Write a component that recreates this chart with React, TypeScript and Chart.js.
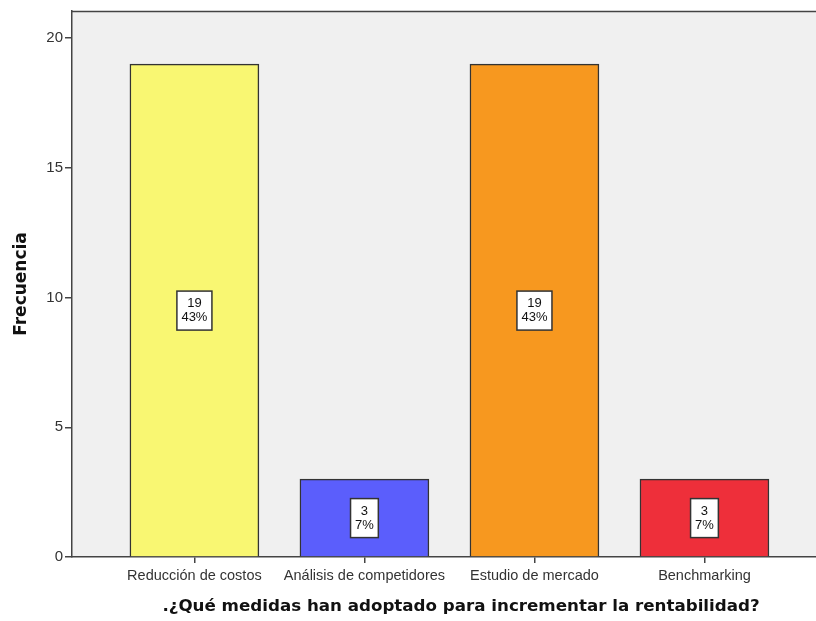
import React, { useEffect, useRef } from "react";
import { Chart, registerables } from "chart.js";

Chart.register(...registerables);

// Survey results: measures adopted to increase profitability
const categories = [
  "Reducción de costos",
  "Análisis de competidores",
  "Estudio de mercado",
  "Benchmarking",
];
const frequencies = [19, 3, 19, 3];
const barColors = ["#f9f772", "#5b5efc", "#f7981f", "#ee2f3a"];
const yTickValues = [0, 5, 10, 15, 20];
const yAxisTitle = "Frecuencia";
const xAxisTitle = ".¿Qué medidas han adoptado para incrementar la rentabilidad?";

const total = frequencies.reduce((a, b) => a + b, 0);
const AXIS_COLOR = "#444444";
const TEXT_COLOR = "#333333";

// Plot background, top frame line, value boxes and axis titles
const decorations = {
  id: "decorations",
  beforeDraw(chart: any) {
    const { ctx, chartArea } = chart;
    ctx.save();
    ctx.fillStyle = "#f0f0f0";
    ctx.fillRect(chartArea.left, chartArea.top, chartArea.right - chartArea.left, chartArea.bottom - chartArea.top);
    ctx.restore();
  },
  afterDatasetsDraw(chart: any) {
    const { ctx, chartArea } = chart;
    const xScale = chart.scales.x;
    const yScale = chart.scales.y;
    ctx.save();
    // top frame line
    ctx.strokeStyle = AXIS_COLOR;
    ctx.lineWidth = 1.5;
    ctx.beginPath();
    ctx.moveTo(chartArea.left, chartArea.top + 0.5);
    ctx.lineTo(chartArea.right, chartArea.top + 0.5);
    ctx.stroke();

    // value / percent boxes at mid-height of each bar
    ctx.font = "13px 'Liberation Sans', Arial, sans-serif";
    ctx.textAlign = "center";
    ctx.textBaseline = "middle";
    frequencies.forEach((v, i) => {
      const pct = Math.round((v / total) * 100) + "%";
      const cx = xScale.getPixelForValue(i);
      const cy = yScale.getPixelForValue(v / 2);
      const w = Math.max(ctx.measureText(String(v)).width, ctx.measureText(pct).width) + 9;
      const h = 39;
      ctx.fillStyle = "#ffffff";
      ctx.fillRect(cx - w / 2, cy - h / 2, w, h);
      ctx.strokeStyle = "#333333";
      ctx.lineWidth = 1.5;
      ctx.strokeRect(cx - w / 2, cy - h / 2, w, h);
      ctx.fillStyle = "#111111";
      ctx.fillText(String(v), cx, cy - 7);
      ctx.fillText(pct, cx, cy + 7);
    });
    ctx.restore();
  },
  afterDraw(chart: any) {
    const { ctx, chartArea } = chart;
    ctx.save();
    ctx.fillStyle = "#111111";
    ctx.textAlign = "center";
    ctx.textBaseline = "middle";
    // y axis title
    ctx.font = "bold 17px 'DejaVu Sans', Verdana, sans-serif";
    ctx.translate(22, (chartArea.top + chartArea.bottom) / 2);
    ctx.rotate(-Math.PI / 2);
    ctx.fillText(yAxisTitle, 0, 0);
    ctx.setTransform(1, 0, 0, 1, 0, 0);
    // x axis title
    ctx.font = "bold 16.7px 'DejaVu Sans', Verdana, sans-serif";
    ctx.fillText(xAxisTitle, 461, chartArea.bottom + 50);
    ctx.restore();
  },
};

export default function App() {
  const canvasRef = useRef<HTMLCanvasElement | null>(null);

  useEffect(() => {
    if (!canvasRef.current) return;
    const chart = new Chart(canvasRef.current, {
      type: "bar",
      data: {
        datasets: [
          {
            data: frequencies.map((v, i) => ({ x: i, y: v })),
            backgroundColor: barColors,
            borderColor: "#333333",
            borderWidth: 1.5,
            barThickness: 129,
          },
        ],
      },
      options: {
        responsive: false,
        animation: false,
        layout: { padding: { top: 8, right: 0, left: 0, bottom: 0 } },
        plugins: {
          legend: { display: false },
          tooltip: { enabled: false },
        },
        scales: {
          x: {
            type: "linear",
            offset: false,
            min: -0.72,
            max: 3.656,
            afterBuildTicks: (scale: any) => {
              scale.ticks = categories.map((_, i) => ({ value: i }));
            },
            afterFit: (scale: any) => {
              scale.height = 64;
            },
            ticks: {
              autoSkip: false,
              maxRotation: 0,
              padding: 4,
              color: TEXT_COLOR,
              font: { family: "'Liberation Sans', Arial, sans-serif", size: 14.5 },
              callback: (v: any) => categories[v] ?? "",
            },
            grid: {
              offset: false,
              drawOnChartArea: false,
              drawTicks: true,
              tickLength: 6,
              color: AXIS_COLOR,
              lineWidth: 1.5,
            },
            border: { color: AXIS_COLOR, width: 1.5 },
          },
          y: {
            min: 0,
            max: 21.05,
            afterBuildTicks: (scale: any) => {
              scale.ticks = yTickValues.map((v) => ({ value: v }));
            },
            afterFit: (scale: any) => {
              scale.width = 72;
            },
            ticks: {
              padding: 2,
              color: TEXT_COLOR,
              font: { family: "'Liberation Sans', Arial, sans-serif", size: 15 },
            },
            grid: {
              offset: false,
              drawOnChartArea: false,
              drawTicks: true,
              tickLength: 7,
              color: AXIS_COLOR,
              lineWidth: 1.5,
            },
            border: { color: AXIS_COLOR, width: 1.5 },
          },
        },
      },
      plugins: [decorations],
    });
    return () => chart.destroy();
  }, []);

  return (
    <div style={{ position: "fixed", left: 0, top: 0, width: 816, height: 621, background: "#ffffff" }}>
      <canvas ref={canvasRef} width={816} height={621} />
    </div>
  );
}
